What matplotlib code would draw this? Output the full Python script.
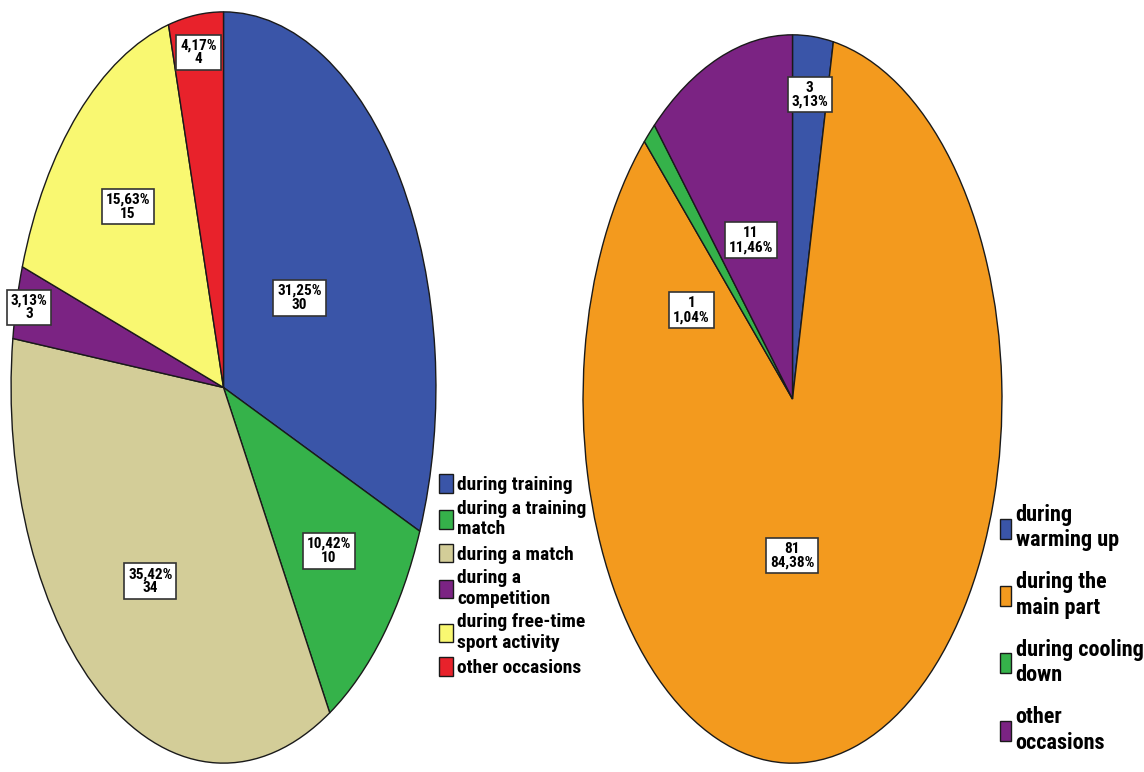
import numpy as np
import matplotlib.pyplot as plt
from matplotlib import font_manager

# -----------------------------
# Data
# -----------------------------
left_labels = ["during training", "during a training\nmatch", "during a match",
               "during a\ncompetition", "during free-time\nsport activity", "other occasions"]
left_counts = [30, 10, 34, 3, 15, 4]
left_pcts = ["31,25%", "10,42%", "35,42%", "3,13%", "15,63%", "4,17%"]
left_colors = ["#3A55A8", "#35B24A", "#D3CD98", "#7B2383", "#F9F871", "#E8222B"]

right_labels = ["during\nwarming up", "during the\nmain part", "during cooling\ndown", "other\noccasions"]
right_counts = [3, 81, 1, 11]
right_pcts = ["3,13%", "84,38%", "1,04%", "11,46%"]
right_colors = ["#3A55A8", "#F39A1E", "#35B24A", "#7B2383"]

# label placement: (radius, angle offset in deg) relative to wedge middle
left_label_pos = [(0.43, 0), (0.66, 0), (0.62, 0), (0.94, 0), (0.66, 0), (0.9, 0)]
right_label_pos = [(0.84, 0), (0.43, -17), (0.54, 20), (0.48, 4)]

# pick a narrow font if one is installed
installed = {f.name for f in font_manager.fontManager.ttflist}
narrow = [n for n in ["Liberation Sans Narrow", "DejaVu Sans Condensed", "Roboto Condensed",
                      "Open Sans Condensed"] if n in installed]
if narrow:
    FONT = [narrow[0], "DejaVu Sans"]
    STRETCH = "normal"
    scale = 1.0
else:
    FONT = ["DejaVu Sans"]
    STRETCH = "condensed"
    scale = 0.78

fig = plt.figure(figsize=(11.44, 7.72), dpi=100)


def draw_pie(rect, counts, colors, texts, label_pos):
    ax = fig.add_axes(rect)
    wedges, _ = ax.pie(counts, colors=colors, startangle=90, counterclock=False,
                       wedgeprops=dict(edgecolor="#1a1a1a", linewidth=1.0))
    ax.set_aspect("auto")
    ax.set_xlim(-1.005, 1.005)
    ax.set_ylim(-1.005, 1.005)
    for w, t, (r, off) in zip(wedges, texts, label_pos):
        mid = np.deg2rad((w.theta1 + w.theta2) / 2 + off)
        ax.text(r * np.cos(mid), r * np.sin(mid), t, ha="center", va="center",
                fontsize=11 * scale, fontweight="bold", family=FONT, fontstretch=STRETCH,
                linespacing=1.0,
                bbox=dict(boxstyle="square,pad=0.25", facecolor="white",
                          edgecolor="#333333", linewidth=1.2))
    return wedges


left_texts = [f"{p}\n{c}" for p, c in zip(left_pcts, left_counts)]
right_texts = [f"{c}\n{p}" for c, p in zip(right_counts, right_pcts)]

lw = draw_pie([10 / 1144, 7 / 772, 427 / 1144, 755 / 772],
              left_counts, left_colors, left_texts, left_label_pos)
rw = draw_pie([582 / 1144, 7 / 772, 421 / 1144, 732 / 772],
              right_counts, right_colors, right_texts, right_label_pos)

# -----------------------------
# Legends
# -----------------------------
leg1 = fig.legend(lw, left_labels, loc="upper left", bbox_to_anchor=(439 / 1144, 1 - 474 / 772),
                  frameon=False, handlelength=0.7 / scale, handleheight=1.1, handletextpad=0.25,
                  labelspacing=0.3, borderaxespad=0, borderpad=0,
                  prop=dict(family=FONT, weight="bold", size=14 * scale, stretch=STRETCH))
for t in leg1.get_texts():
    t.set_linespacing(1.15)

leg2 = fig.legend(rw, right_labels, loc="upper left", bbox_to_anchor=(1000 / 1144, 1 - 504 / 772),
                  frameon=False, handlelength=0.5 / scale, handleheight=1.0, handletextpad=0.2,
                  labelspacing=0.9, borderaxespad=0, borderpad=0,
                  prop=dict(family=FONT, weight="bold", size=16 * scale, stretch=STRETCH))
for t in leg2.get_texts():
    t.set_linespacing(1.2)

fig.savefig("out.png", dpi=100, facecolor="white")
